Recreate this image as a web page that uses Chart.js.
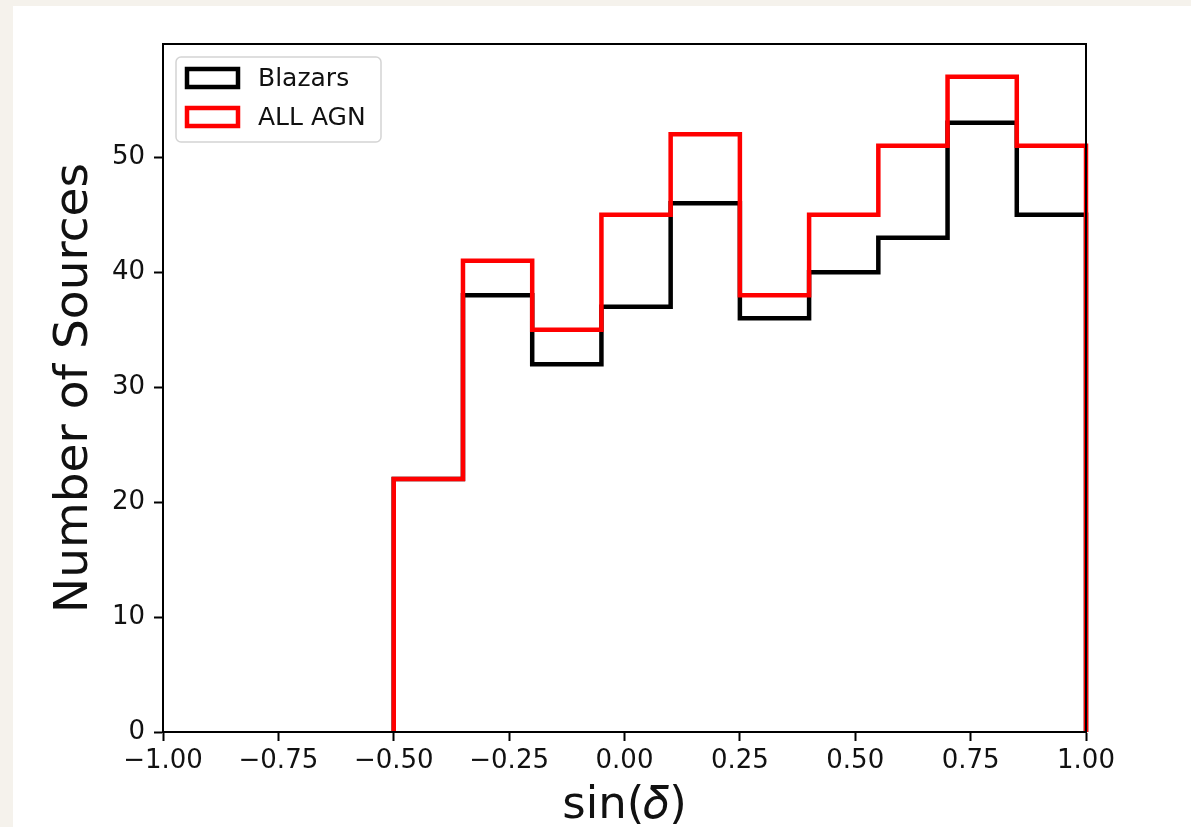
<!DOCTYPE html>
<html>
<head>
<meta charset="utf-8">
<title>sin(delta) histogram</title>
<script src="https://cdn.jsdelivr.net/npm/chart.js@4.4.1/dist/chart.umd.min.js"></script>
<style>
    html, body {
        margin: 0;
        padding: 0;
        width: 1191px;
        height: 827px;
        overflow: hidden;
        background: #f5f2ec;
    }
    #panel {
        position: absolute;
        left: 13px;
        top: 6px;
        width: 1178px;
        height: 821px;
        background: #ffffff;
    }
</style>
</head>
<body>
<div id="panel">
    <canvas id="histChart" width="1178" height="821"></canvas>
</div>
<script>
// bin edges of the sin(dec) histogram
const binEdges = [-0.5, -0.35, -0.2, -0.05, 0.1, 0.25, 0.4, 0.55, 0.7, 0.85, 1.0];

// counts per bin
const blazarCounts = [22, 38, 32, 37, 46, 36, 40, 43, 53, 45];
const allAgnCounts = [22, 41, 35, 45, 52, 38, 45, 51, 57, 51];

const seriesLabels = ['Blazars', 'ALL AGN'];
const seriesColors = ['#000000', '#ff0000'];

const xTickStep = 0.25;
const yTickStep = 10;

// outline of a step histogram, as matplotlib histtype='step' draws it
function stepOutline(edges, counts) {
    const pts = [{ x: edges[0], y: 0 }];
    counts.forEach((c, i) => {
        pts.push({ x: edges[i], y: c });
        pts.push({ x: edges[i + 1], y: c });
    });
    pts.push({ x: edges[edges.length - 1], y: 0 });
    return pts;
}

const yMax = Math.max(...blazarCounts, ...allAgnCounts) * 1.05;

const fontFamily = "'DejaVu Sans', sans-serif";
const textColor = '#111111';

function makeDataset(i, counts, order) {
    return {
        label: seriesLabels[i],
        data: stepOutline(binEdges, counts),
        borderColor: seriesColors[i],
        backgroundColor: 'rgba(0,0,0,0)',
        borderWidth: 4.5,
        borderJoinStyle: 'miter',
        borderCapStyle: 'butt',
        pointRadius: 0,
        fill: false,
        tension: 0,
        clip: false,
        order: order
    };
}

// frame (all four spines) and boxed legend
const framePlugin = {
    id: 'framePlugin',
    afterDatasetsDraw(chart) {
        const { ctx, chartArea } = chart;
        ctx.save();
        ctx.strokeStyle = '#000000';
        ctx.lineWidth = 2;
        ctx.strokeRect(chartArea.left, chartArea.top,
            chartArea.right - chartArea.left, chartArea.bottom - chartArea.top);
        ctx.restore();
    },
    afterDraw(chart) {
        const { ctx, chartArea } = chart;
        const bx = chartArea.left + 13;
        const by = chartArea.top + 13;
        const bw = 205;
        const bh = 85;
        ctx.save();
        ctx.beginPath();
        ctx.roundRect(bx, by, bw, bh, 5);
        ctx.fillStyle = 'rgba(255,255,255,0.8)';
        ctx.fill();
        ctx.strokeStyle = '#d4d4d4';
        ctx.lineWidth = 1.5;
        ctx.stroke();

        ctx.font = '25px ' + fontFamily;
        ctx.textBaseline = 'middle';
        ctx.textAlign = 'left';
        chart.data.datasets.forEach((ds, i) => {
            const cy = by + 21 + i * 39;
            ctx.strokeStyle = ds.borderColor;
            ctx.lineWidth = 4.5;
            ctx.strokeRect(bx + 11, cy - 9, 51, 18);
            ctx.fillStyle = textColor;
            ctx.fillText(ds.label, bx + 82, cy + 1);
        });
        ctx.restore();
    }
};

const config = {
    type: 'line',
    data: {
        datasets: [
            makeDataset(0, blazarCounts, 2),
            makeDataset(1, allAgnCounts, 1)
        ]
    },
    options: {
        responsive: false,
        animation: false,
        devicePixelRatio: 1,
        layout: {
            padding: { left: 0, top: 38, right: 105, bottom: 0 }
        },
        plugins: {
            legend: { display: false },
            tooltip: { enabled: false }
        },
        scales: {
            x: {
                type: 'linear',
                min: -1,
                max: 1,
                afterFit(scale) { scale.height = 95; },
                border: { display: true, color: '#000000', width: 2 },
                grid: {
                    drawOnChartArea: false,
                    drawTicks: true,
                    tickLength: 9,
                    tickWidth: 2,
                    tickColor: '#000000'
                },
                ticks: {
                    stepSize: xTickStep,
                    padding: 5,
                    color: textColor,
                    maxRotation: 0,
                    font: { family: fontFamily, size: 26 },
                    callback: (v) => v.toFixed(2).replace('-', '\u2212')
                },
                title: {
                    display: true,
                    text: 'sin(\u{1D6FF})',
                    color: textColor,
                    font: { family: fontFamily, size: 45, lineHeight: 0.9 },
                    padding: { top: 0, bottom: 0 }
                }
            },
            y: {
                type: 'linear',
                min: 0,
                max: yMax,
                afterFit(scale) { scale.width = 150; },
                border: { display: true, color: '#000000', width: 2 },
                grid: {
                    drawOnChartArea: false,
                    drawTicks: true,
                    tickLength: 9,
                    tickWidth: 2,
                    tickColor: '#000000'
                },
                ticks: {
                    stepSize: yTickStep,
                    includeBounds: false,
                    padding: 9,
                    color: textColor,
                    font: { family: fontFamily, size: 26 }
                },
                title: {
                    display: true,
                    text: 'Number of Sources',
                    color: textColor,
                    font: { family: fontFamily, size: 47, lineHeight: 1.2 },
                    padding: { top: 34, bottom: 0 }
                }
            }
        }
    },
    plugins: [framePlugin]
};

const ctx = document.getElementById('histChart').getContext('2d');
const chart = new Chart(ctx, config);
</script>
</body>
</html>
